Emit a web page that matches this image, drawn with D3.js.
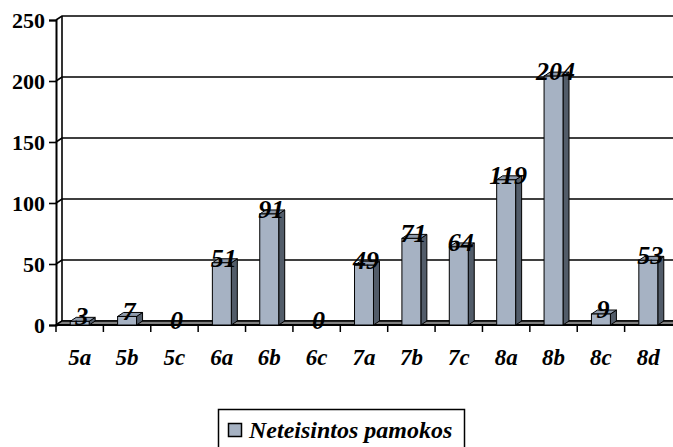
<!DOCTYPE html>
<html>
<head>
<meta charset="utf-8">
<script src="https://cdn.jsdelivr.net/npm/d3@7"></script>
<style>
  body { margin: 0; background: #fff; }
</style>
</head>
<body>
<div id="chart"></div>
<script>
var classes = ['5a', '5b', '5c', '6a', '6b', '6c', '7a', '7b', '7c', '8a', '8b', '8c', '8d'];
var lessons = [3, 7, 0, 51, 91, 0, 49, 71, 64, 119, 204, 9, 53];
var yTicks = [0, 50, 100, 150, 200, 250];
var seriesName = 'Neteisintos pamokos';

var W = 673, H = 447;
var dx = 6, dy = -4;   // depth of the 3d effect
var frontColor = '#a6b2c3', topColor = '#8f9bac', sideColor = '#525c69';
var serif = '"Liberation Serif", "Times New Roman", Tinos, serif';

var svg = d3.select('#chart').append('svg')
    .attr('width', W)
    .attr('height', H)

var x = d3.scaleBand().domain(classes).range([56, 672]).padding(0)
var y = d3.scaleLinear().domain([0, 250]).range([325, 20])
var barW = x.bandwidth() * 0.4

// walls + gridlines
var gridG = svg.append('g')
yTicks.forEach(function(t) {
    gridG.append('polyline')
        .attr('points', [[x.range()[0], y(t)], [x.range()[0] + dx, y(t) + dy], [W + 5, y(t) + dy]].join(' '))
        .attr('fill', 'none')
        .attr('stroke', '#000')
        .attr('stroke-width', 1.6)
})
// floor
gridG.append('polygon')
    .attr('points', [[x.range()[0], y(0)], [x.range()[0] + dx, y(0) + dy], [W + 5, y(0) + dy], [W + 5, y(0)]].join(' '))
    .attr('fill', '#808080')
    .attr('stroke', '#000')
    .attr('stroke-width', 1.5)
// back edge of the side wall
gridG.append('line')
    .attr('x1', x.range()[0] + dx).attr('x2', x.range()[0] + dx)
    .attr('y1', y(250) + dy).attr('y2', y(0) + dy)
    .attr('stroke', '#000').attr('stroke-width', 1.6)

// y axis on the front plane
var yAxis = svg.append('g')
    .attr('transform', 'translate(' + x.range()[0] + ',0)')
    .call(d3.axisLeft(y).tickValues(yTicks).tickSize(7).tickPadding(4))
yAxis.select('.domain').attr('stroke-width', 2)
yAxis.selectAll('.tick line').attr('stroke-width', 1.6)
yAxis.selectAll('text')
    .attr('fill', '#000')
    .style('font-family', serif)
    .style('font-weight', 'bold')
    .style('font-size', '22px')

// x axis
var xAxis = svg.append('g')
    .attr('transform', 'translate(0,' + y(0) + ')')
    .call(d3.axisBottom(x).tickSize(0).tickPadding(24))
xAxis.select('.domain').attr('stroke-width', 2).attr('d', 'M' + x.range()[0] + ',0H' + (W + 5))
xAxis.selectAll('text')
    .attr('fill', '#000')
    .style('font-family', serif)
    .style('font-weight', 'bold')
    .style('font-style', 'italic')
    .style('font-size', '23px')
// tick marks between categories
xAxis.selectAll('line.sep').data(classes).enter()
    .append('line')
    .attr('class', 'sep')
    .attr('x1', function(d) { return x(d) }).attr('x2', function(d) { return x(d) })
    .attr('y1', 0).attr('y2', 7)
    .attr('stroke', '#000').attr('stroke-width', 1.5)

// bars
var bars = svg.selectAll('g.bar').data(classes).enter()
    .append('g')
        .attr('class', 'bar')
        .attr('transform', function(d) { return 'translate(' + (x(d) + x.bandwidth() / 2 - barW / 2) + ',0)' })

bars.each(function(d, i) {
    if (lessons[i] <= 0) return
    var g = d3.select(this)
    var top = y(lessons[i]), bot = y(0)
    g.append('polygon')
        .attr('points', [[barW, top], [barW + dx, top + dy], [barW + dx, bot + dy], [barW, bot]].join(' '))
        .attr('fill', sideColor).attr('stroke', '#000').attr('stroke-width', 1)
    g.append('polygon')
        .attr('points', [[0, top], [dx, top + dy], [barW + dx, top + dy], [barW, top]].join(' '))
        .attr('fill', topColor).attr('stroke', '#000').attr('stroke-width', 1)
    g.append('rect')
        .attr('x', 0).attr('y', top)
        .attr('width', barW).attr('height', bot - top)
        .attr('fill', frontColor).attr('stroke', '#000').attr('stroke-width', 1)
})

// value labels
svg.selectAll('text.val').data(classes).enter()
    .append('text')
    .attr('class', 'val')
    .attr('x', function(d) { return x(d) + x.bandwidth() / 2 + 2 })
    .attr('y', function(d, i) { return y(lessons[i]) + 4 })
    .attr('text-anchor', 'middle')
    .style('font-family', serif)
    .style('font-weight', 'bold')
    .style('font-style', 'italic')
    .style('font-size', '26px')
    .text(function(d, i) { return lessons[i] })

// legend
var leg = svg.append('g')
leg.append('rect')
    .attr('x', 218.5).attr('y', 409.5).attr('width', 246).attr('height', 50)
    .attr('fill', '#fff').attr('stroke', '#000').attr('stroke-width', 1.5)
leg.append('rect')
    .attr('x', 228.5).attr('y', 423.5).attr('width', 13).attr('height', 13)
    .attr('fill', frontColor).attr('stroke', '#000').attr('stroke-width', 1.5)
leg.append('text')
    .attr('x', 249).attr('y', 438)
    .style('font-family', serif)
    .style('font-weight', 'bold')
    .style('font-style', 'italic')
    .style('font-size', '24px')
    .text(seriesName)
</script>
</body>
</html>
